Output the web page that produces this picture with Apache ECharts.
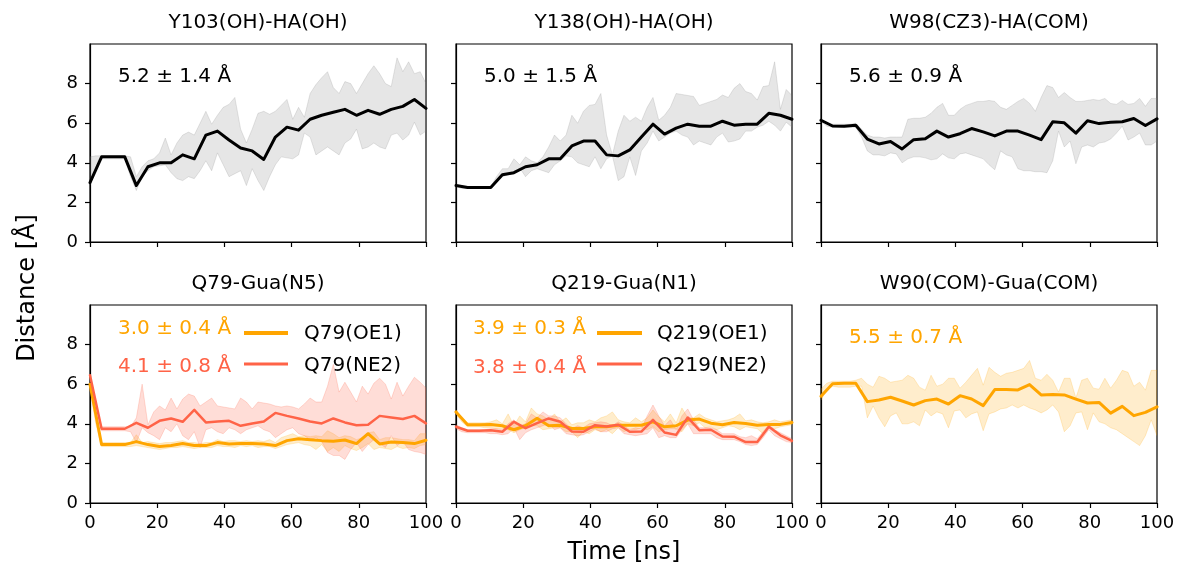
<!DOCTYPE html>
<html>
<head>
<meta charset="utf-8">
<script src="https://cdn.jsdelivr.net/npm/echarts@6/dist/echarts.min.js"></script>
<style>
  html, body { margin: 0; padding: 0; background: #fff; }
  #root { width: 1180px; height: 572px; }
</style>
</head>
<body>
<div id="root"></div>
<script>
// ---- data ----
const titles = ['Y103(OH)-HA(OH)', 'Y138(OH)-HA(OH)', 'W98(CZ3)-HA(COM)',
                'Q79-Gua(N5)', 'Q219-Gua(N1)', 'W90(COM)-Gua(COM)']
const xTicks = [0, 20, 40, 60, 80, 100]
const yTicks = [0, 2, 4, 6, 8]

// Y103(OH)-HA(OH)
const y103 = [3.0, 4.3, 4.3, 4.3, 2.85, 3.8, 4.0, 4.0, 4.4, 4.2, 5.4, 5.6, 5.15, 4.75, 4.6, 4.17, 5.3, 5.8, 5.65, 6.2, 6.4, 6.55, 6.7, 6.4, 6.65, 6.45, 6.7, 6.85, 7.2, 6.75]
const y103Up = [4.3, 4.35, 4.35, 4.35, 4.35, 4.35, 4.35, 4.3, 3.3, 3.8, 4.1, 4.2, 4.5, 5.25, 4.4, 5.0, 5.4, 5.55, 5.4, 6.0, 6.6, 5.95, 6.4, 6.8, 6.95, 7.3, 5.7, 5.0, 5.7, 6.5, 6.6, 6.45, 6.6, 6.9, 7.2, 6.2, 6.8, 6.3, 7.5, 7.95, 8.3, 8.6, 7.8, 7.5, 8.1, 8.0, 7.5, 8.0, 8.5, 8.9, 8.5, 8.0, 7.85, 9.3, 8.6, 9.1, 8.5, 8.6, 8.0]
const y103Lo = [2.9, 3.7, 4.2, 4.2, 4.2, 4.2, 4.2, 3.3, 2.6, 3.3, 3.6, 3.8, 3.85, 3.9, 3.5, 3.2, 3.1, 3.3, 3.2, 3.6, 4.1, 3.6, 4.5, 3.9, 3.3, 3.45, 3.6, 2.85, 3.7, 3.1, 2.6, 3.3, 3.9, 4.3, 4.25, 4.2, 4.4, 5.5, 5.3, 4.4, 4.6, 4.8, 4.6, 4.4, 5.0, 5.2, 5.7, 4.7, 4.8, 5.0, 4.8, 4.7, 5.4, 5.5, 5.15, 5.4, 6.05, 5.4, 5.6]

// Y138(OH)-HA(OH)
const y138 = [2.85, 2.75, 2.75, 2.75, 3.4, 3.5, 3.8, 3.9, 4.2, 4.2, 4.85, 5.1, 5.1, 4.4, 4.35, 4.65, 5.3, 5.95, 5.45, 5.75, 5.95, 5.85, 5.85, 6.1, 5.9, 5.95, 5.95, 6.5, 6.4, 6.2]
const y138Up = [2.9, 2.85, 2.8, 2.8, 2.8, 2.8, 2.8, 3.3, 3.7, 3.7, 4.2, 3.9, 4.3, 4.1, 4.0, 4.3, 4.8, 5.4, 5.1, 5.4, 6.4, 6.0, 6.6, 6.9, 6.95, 7.5, 5.4, 4.4, 5.6, 6.4, 6.1, 6.3, 6.1, 6.8, 7.3, 6.15, 6.4, 6.8, 7.5, 7.45, 7.4, 7.35, 6.9, 7.0, 7.1, 7.2, 7.42, 7.3, 7.76, 8.0, 7.6, 7.5, 7.17, 7.85, 7.9, 9.1, 6.7, 7.7, 7.4]
const y138Lo = [2.8, 2.7, 2.7, 2.7, 2.7, 2.7, 2.7, 3.0, 3.3, 3.4, 3.45, 3.75, 3.3, 3.6, 3.7, 3.6, 3.5, 3.9, 4.1, 4.35, 4.3, 4.0, 3.9, 3.8, 4.3, 3.7, 4.2, 4.35, 3.1, 3.3, 4.3, 3.36, 4.6, 5.0, 5.6, 5.1, 5.3, 5.5, 5.6, 5.4, 5.3, 4.9, 5.1, 5.0, 4.9, 5.3, 5.5, 5.05, 5.1, 5.2, 5.6, 5.6, 5.8, 5.9, 6.1, 5.9, 5.6, 6.05, 5.8]

// W98(CZ3)-HA(COM)
const w98 = [6.15, 5.86, 5.85, 5.9, 5.2, 4.95, 5.08, 4.7, 5.17, 5.22, 5.6, 5.3, 5.47, 5.73, 5.56, 5.36, 5.6, 5.6, 5.4, 5.17, 6.07, 6.02, 5.5, 6.12, 5.98, 6.05, 6.07, 6.24, 5.88, 6.22]
const w98Up = [6.2, 6.0, 5.95, 5.95, 5.95, 5.95, 6.0, 5.7, 5.4, 5.3, 5.3, 5.25, 5.3, 5.3, 5.3, 6.2, 6.25, 6.25, 6.3, 6.5, 6.8, 7.0, 6.4, 6.4, 6.7, 6.9, 7.0, 7.1, 7.1, 7.15, 7.1, 6.8, 6.7, 6.9, 7.1, 7.25, 7.0, 6.6, 7.3, 7.9, 7.8, 7.3, 7.55, 7.3, 7.1, 7.1, 7.15, 7.2, 7.15, 7.25, 7.0, 6.95, 7.15, 6.95, 7.0, 7.25, 6.85, 7.25, 7.25]
const w98Lo = [6.1, 5.85, 5.8, 5.8, 5.8, 5.8, 5.8, 5.3, 4.6, 4.4, 4.4, 4.35, 4.5, 4.45, 4.0, 4.2, 4.3, 4.3, 4.25, 4.15, 4.2, 4.45, 4.25, 4.2, 4.45, 4.5, 4.4, 4.3, 4.2, 3.9, 3.65, 4.6, 4.4, 4.3, 3.7, 3.6, 3.6, 3.55, 3.55, 3.5, 4.1, 5.6, 4.8, 5.1, 3.95, 4.8, 4.9, 4.8, 5.0, 5.05, 5.2, 5.5, 5.85, 5.15, 5.3, 5.5, 4.9, 4.9, 5.1]

// Q79-Gua(N5)
const q79oe1 = [6.0, 2.95, 2.95, 2.95, 3.1, 2.95, 2.85, 2.9, 3.0, 2.9, 2.9, 3.05, 2.98, 3.0, 3.0, 2.98, 2.9, 3.15, 3.25, 3.2, 3.15, 3.12, 3.18, 3.0, 3.5, 2.98, 3.08, 3.05, 3.0, 3.17]
const q79oe1Up = [6.0, 4.4, 3.05, 3.05, 3.05, 3.05, 3.05, 3.05, 3.45, 3.05, 3.1, 3.05, 3.0, 3.05, 3.05, 3.1, 3.15, 3.05, 3.05, 3.0, 3.05, 3.05, 3.2, 3.1, 3.15, 3.15, 3.1, 3.15, 3.1, 3.15, 3.1, 3.2, 3.05, 3.3, 3.4, 3.5, 3.35, 3.4, 3.35, 3.4, 3.35, 3.65, 3.5, 3.3, 3.4, 3.35, 3.2, 3.3, 3.55, 3.6, 3.2, 3.3, 3.3, 3.25, 3.2, 3.2, 3.15, 3.5, 3.5]
const q79oe1Lo = [5.8, 4.0, 2.85, 2.85, 2.85, 2.85, 2.85, 2.85, 2.9, 2.85, 2.8, 2.75, 2.7, 2.75, 2.8, 2.8, 2.85, 2.8, 2.75, 2.8, 2.8, 2.8, 2.9, 2.85, 2.85, 2.8, 2.9, 2.85, 2.9, 2.8, 2.85, 2.85, 2.75, 2.85, 2.95, 3.0, 3.05, 2.95, 2.9, 2.7, 2.95, 2.6, 2.8, 2.6, 2.9, 2.75, 2.65, 2.8, 3.0, 2.7, 2.8, 2.75, 2.7, 2.85, 2.75, 2.8, 2.75, 2.9, 2.95]
const q79ne2 = [6.45, 3.75, 3.75, 3.75, 4.05, 3.8, 4.15, 4.27, 4.1, 4.7, 4.07, 4.12, 4.15, 3.9, 4.02, 4.12, 4.55, 4.4, 4.27, 4.12, 4.02, 4.27, 4.07, 3.93, 3.95, 4.4, 4.32, 4.24, 4.4, 4.02]
const q79ne2Up = [6.5, 5.0, 3.85, 3.85, 3.85, 3.85, 3.85, 3.85, 4.3, 6.0, 3.95, 4.6, 4.9, 4.7, 5.3, 4.75, 5.25, 5.5, 5.4, 4.9, 5.1, 5.3, 4.9, 4.85, 4.8, 4.75, 5.3, 5.1, 4.75, 5.1, 5.05, 5.0, 4.9, 4.85, 4.9, 4.85, 4.75, 5.0, 5.3, 5.1, 5.1, 5.9, 7.0, 5.6, 6.1, 5.6, 5.1, 5.9, 5.5, 6.05, 6.3, 6.0, 5.25, 6.1, 5.4, 5.9, 6.35, 6.1, 5.8]
const q79ne2Lo = [6.4, 5.0, 3.65, 3.65, 3.65, 3.65, 3.65, 3.6, 3.05, 3.8, 3.55, 3.4, 3.2, 3.8, 3.6, 4.0, 3.4, 3.2, 3.6, 2.8, 3.7, 3.8, 3.6, 3.5, 3.8, 3.7, 3.5, 3.7, 3.8, 3.9, 3.7, 3.6, 3.3, 3.5, 3.7, 3.8, 3.5, 3.4, 3.2, 3.3, 3.1, 2.55, 2.4, 2.4, 2.2, 2.7, 3.05, 2.6, 2.95, 3.2, 3.0, 2.8, 3.4, 2.9, 3.1, 2.7, 2.6, 2.55, 2.45]

// Q219-Gua(N1)
const q219oe1 = [4.6, 3.95, 3.95, 3.97, 3.9, 3.7, 3.9, 4.28, 3.9, 3.93, 3.76, 3.76, 3.85, 3.85, 3.93, 3.93, 3.93, 4.1, 3.85, 3.9, 4.19, 4.24, 4.03, 3.95, 4.07, 4.02, 3.93, 3.97, 3.97, 4.07]
const q219oe1Up = [4.7, 4.3, 4.05, 4.05, 4.05, 4.05, 4.1, 4.2, 4.0, 4.5, 3.9, 4.4, 4.1, 4.8, 4.5, 4.4, 4.2, 4.5, 4.1, 4.3, 3.95, 4.05, 4.05, 4.2, 4.1, 4.3, 4.4, 4.6, 4.2, 4.1, 4.05, 4.3, 4.1, 4.3, 4.7, 4.35, 4.1, 4.5, 4.05, 4.8, 4.3, 4.3, 4.5, 4.3, 4.2, 4.1, 4.15, 4.2, 4.3, 4.5, 4.15, 4.2, 4.1, 4.05, 4.1, 4.2, 4.1, 4.15, 4.2]
const q219oe1Lo = [4.5, 4.1, 3.85, 3.85, 3.85, 3.8, 3.8, 3.75, 3.75, 3.7, 3.55, 3.7, 3.8, 3.9, 3.9, 3.7, 3.75, 3.8, 3.8, 3.6, 3.6, 3.3, 3.6, 3.5, 3.7, 3.6, 3.7, 3.5, 3.8, 3.6, 3.75, 3.7, 3.8, 3.7, 3.85, 3.6, 3.7, 3.75, 3.75, 3.6, 4.0, 3.9, 4.05, 3.8, 3.85, 3.7, 3.8, 3.9, 3.85, 3.7, 3.85, 3.8, 3.75, 3.5, 3.8, 3.75, 3.85, 3.9, 3.95]
const q219ne2 = [3.85, 3.65, 3.65, 3.67, 3.6, 4.1, 3.78, 4.03, 4.27, 4.1, 3.61, 3.6, 3.93, 3.86, 3.95, 3.6, 3.61, 4.2, 3.56, 3.44, 4.32, 3.68, 3.7, 3.36, 3.35, 3.08, 3.08, 3.85, 3.42, 3.14]
const q219ne2Up = [3.95, 3.8, 3.7, 3.7, 3.7, 3.7, 3.75, 3.75, 3.7, 4.0, 4.2, 3.9, 4.0, 4.5, 4.3, 4.6, 4.4, 4.4, 4.3, 4.0, 3.75, 3.9, 3.8, 4.0, 4.05, 4.1, 4.05, 3.9, 4.1, 3.9, 3.7, 3.8, 3.75, 4.4, 4.95, 4.4, 3.9, 4.2, 3.7, 4.4, 4.75, 4.2, 3.8, 3.8, 3.8, 3.7, 3.5, 3.5, 3.5, 3.35, 3.3, 3.4, 3.25, 3.6, 3.95, 3.7, 3.55, 3.4, 3.25]
const q219ne2Lo = [3.75, 3.6, 3.55, 3.55, 3.55, 3.55, 3.5, 3.5, 3.45, 3.5, 3.8, 3.2, 3.55, 3.7, 3.8, 3.9, 4.0, 3.7, 3.8, 3.5, 3.45, 3.4, 3.45, 3.6, 3.75, 3.6, 3.6, 3.75, 3.8, 3.5, 3.45, 3.4, 3.45, 3.5, 3.8, 3.3, 3.4, 3.3, 3.3, 3.7, 4.0, 3.5, 3.5, 3.5, 3.5, 3.3, 3.2, 3.2, 3.2, 3.1, 2.95, 2.9, 2.95, 3.3, 3.7, 3.4, 3.25, 3.1, 3.05]

// W90(COM)-Gua(COM)
const w90 = [5.39, 6.02, 6.05, 6.05, 5.12, 5.2, 5.34, 5.15, 4.95, 5.17, 5.25, 5.0, 5.42, 5.25, 4.92, 5.73, 5.73, 5.71, 5.98, 5.46, 5.48, 5.46, 5.25, 5.05, 5.08, 4.54, 4.88, 4.41, 4.58, 4.86]
const w90Up = [5.75, 6.05, 6.15, 6.15, 6.15, 6.15, 6.2, 6.3, 6.0, 5.85, 6.4, 6.3, 6.1, 6.15, 6.2, 6.45, 6.3, 5.85, 5.7, 6.45, 5.9, 6.0, 6.3, 6.3, 5.8, 6.1, 6.45, 6.8, 5.95, 6.85, 6.6, 6.4, 6.55, 6.6, 6.7, 6.8, 7.2, 6.3, 6.2, 6.5, 6.2, 5.6, 6.3, 6.3, 5.3, 6.2, 6.3, 5.8, 5.75, 6.3, 5.8, 6.2, 6.7, 6.6, 5.9, 6.1, 5.7, 6.7, 6.7]
const w90Lo = [5.2, 5.7, 5.9, 5.85, 5.85, 5.85, 5.9, 5.9, 4.3, 4.9, 4.3, 3.85, 4.4, 4.55, 4.0, 4.0, 4.1, 3.9, 4.7, 4.4, 4.6, 4.5, 3.8, 4.65, 4.7, 4.3, 4.5, 4.6, 3.65, 4.5, 4.6, 4.75, 4.8, 4.95, 4.8, 4.95, 4.8, 4.7, 4.55, 4.7, 4.95, 4.6, 3.6, 3.9, 4.55, 4.6, 3.7, 4.55, 4.1, 4.0, 3.8, 3.7, 3.5, 3.3, 3.1, 2.9, 3.4, 4.2, 3.4]

// mean ± sd labels
const statsTop = ['5.2 ± 1.4 Å', '5.0 ± 1.5 Å', '5.6 ± 0.9 Å']
const statsQ79 = ['3.0 ± 0.4 Å', '4.1 ± 0.8 Å']
const statsQ219 = ['3.9 ± 0.3 Å', '3.8 ± 0.4 Å']
const statsW90 = ['5.5 ± 0.7 Å']

// ---- layout / style ----
const FONT = 'DejaVu Sans'
const BLACK = '#000000'
const ORANGE = '#FFA500'
const RED = '#FF6347'
const GRAY_FILL = 'rgba(128,128,128,0.2)'
const ORANGE_FILL = 'rgba(255,165,0,0.2)'
const RED_FILL = 'rgba(255,99,71,0.22)'
const lefts = [90, 456, 821]
const tops = [44, 305]
const panelW = 336
const panelH = 198

const timeOf = (arr) => arr.map((_, i) => i * 100 / (arr.length - 1))

const grids = []
const xAxes = []
const yAxes = []
for (let r = 0; r < 2; r++) {
  for (let c = 0; c < 3; c++) {
    grids.push({
      left: lefts[c], top: tops[r], width: panelW, height: panelH,
      show: true, borderColor: BLACK, borderWidth: 1.2, containLabel: false
    })
    xAxes.push({
      type: 'value', gridIndex: r * 3 + c, min: xTicks[0], max: xTicks[xTicks.length - 1],
      interval: xTicks[1] - xTicks[0],
      axisLine: { show: true, onZero: false, lineStyle: { color: BLACK, width: 1.2 } },
      axisTick: { show: true, length: 5, lineStyle: { color: BLACK, width: 1.2 } },
      axisLabel: { show: r === 1, color: BLACK, fontFamily: FONT, fontSize: 18, margin: 11 },
      splitLine: { show: false }
    })
    yAxes.push({
      type: 'value', gridIndex: r * 3 + c, min: 0, max: 10, interval: 2,
      axisLine: { show: true, lineStyle: { color: BLACK, width: 1.2 } },
      axisTick: { show: true, length: 5, customValues: yTicks, lineStyle: { color: BLACK, width: 1.2 } },
      axisLabel: {
        show: c === 0, color: BLACK, fontFamily: FONT, fontSize: 18, margin: 12,
        customValues: yTicks,
        formatter: (v) => (yTicks.indexOf(v) >= 0 ? String(v) : '')
      },
      splitLine: { show: false }
    })
  }
}

function band (idx, up, lo, color) {
  const t = timeOf(up)
  return {
    type: 'custom', xAxisIndex: idx, yAxisIndex: idx, silent: true, clip: true, z: 1,
    data: [[0, 0]],
    renderItem: function (params, api) {
      const pts = []
      for (let i = 0; i < up.length; i++) pts.push(api.coord([t[i], up[i]]))
      for (let i = lo.length - 1; i >= 0; i--) pts.push(api.coord([t[i], lo[i]]))
      return {
        type: 'polygon',
        shape: { points: pts },
        style: { fill: color, stroke: color, lineWidth: 1 }
      }
    }
  }
}

function line (idx, name, vals, color, width) {
  const t = timeOf(vals)
  return {
    type: 'line', name: name, xAxisIndex: idx, yAxisIndex: idx, z: 3,
    data: vals.map((v, i) => [t[i], v]),
    symbol: 'none', showSymbol: false, clip: true,
    lineStyle: { color: color, width: width, join: 'round', cap: 'round' }
  }
}

const series = [
  band(0, y103Up, y103Lo, GRAY_FILL), line(0, 'Y103', y103, BLACK, 3),
  band(1, y138Up, y138Lo, GRAY_FILL), line(1, 'Y138', y138, BLACK, 3),
  band(2, w98Up, w98Lo, GRAY_FILL), line(2, 'W98', w98, BLACK, 3),
  band(3, q79oe1Up, q79oe1Lo, ORANGE_FILL), band(3, q79ne2Up, q79ne2Lo, RED_FILL),
  line(3, 'Q79(OE1)', q79oe1, ORANGE, 3), line(3, 'Q79(NE2)', q79ne2, RED, 2.5),
  band(4, q219oe1Up, q219oe1Lo, ORANGE_FILL), band(4, q219ne2Up, q219ne2Lo, RED_FILL),
  line(4, 'Q219(OE1)', q219oe1, ORANGE, 3), line(4, 'Q219(NE2)', q219ne2, RED, 2.5),
  band(5, w90Up, w90Lo, ORANGE_FILL), line(5, 'W90', w90, ORANGE, 3)
]

// texts
const graphics = []
function txt (s, x, y, color, size, align, rot) {
  graphics.push({
    type: 'text', x: x, y: y, rotation: rot || 0, z: 10,
    style: { text: s, fill: color, font: size + 'px "' + FONT + '"', textAlign: align || 'left', textVerticalAlign: 'middle' }
  })
}
function legendLine (x1, x2, y, color, w) {
  graphics.push({ type: 'line', z: 10, shape: { x1: x1, y1: y, x2: x2, y2: y }, style: { stroke: color, lineWidth: w } })
}

for (let r = 0; r < 2; r++) {
  for (let c = 0; c < 3; c++) {
    txt(titles[r * 3 + c], lefts[c] + panelW / 2, tops[r] - 21, BLACK, 20, 'center')
  }
}
for (let c = 0; c < 3; c++) txt(statsTop[c], lefts[c] + 28, tops[0] + 33, BLACK, 20)

txt(statsQ79[0], 118, 329, ORANGE, 20)
txt(statsQ79[1], 118, 367, RED, 20)
legendLine(244, 288, 333, ORANGE, 4)
legendLine(244, 288, 364, RED, 3)
txt('Q79(OE1)', 304, 334, BLACK, 20)
txt('Q79(NE2)', 304, 366, BLACK, 20)

txt(statsQ219[0], 473, 329, ORANGE, 20)
txt(statsQ219[1], 473, 368, RED, 20)
legendLine(597, 642, 333, ORANGE, 4)
legendLine(597, 642, 364, RED, 3)
txt('Q219(OE1)', 657, 334, BLACK, 20)
txt('Q219(NE2)', 657, 366, BLACK, 20)

txt(statsW90[0], 849, 338, ORANGE, 20)

txt('Time [ns]', lefts[1] + panelW / 2, 553, BLACK, 24, 'center')
txt('Distance [Å]', 28, 288, BLACK, 24, 'center', Math.PI / 2)

const chart = echarts.init(document.getElementById('root'), null, { renderer: 'canvas' })
chart.setOption({
  animation: false,
  backgroundColor: '#ffffff',
  grid: grids,
  xAxis: xAxes,
  yAxis: yAxes,
  series: series,
  graphic: graphics
})
</script>
</body>
</html>
